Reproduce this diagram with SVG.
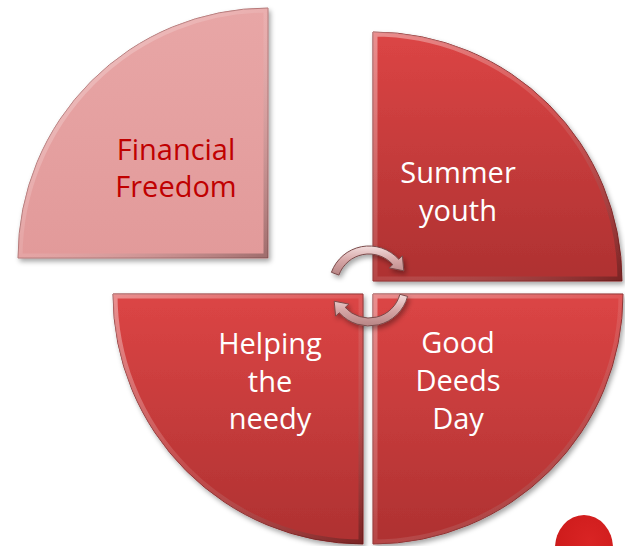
<svg xmlns="http://www.w3.org/2000/svg" width="625" height="546" viewBox="0 0 625 546">
  <defs>
    <linearGradient id="red" x1="0" y1="0" x2="0" y2="1">
      <stop offset="0" stop-color="#dc4545"/>
      <stop offset="1" stop-color="#ae3131"/>
    </linearGradient>
    <linearGradient id="pink" x1="0" y1="0" x2="0" y2="1">
      <stop offset="0" stop-color="#e8a6a6"/>
      <stop offset="1" stop-color="#e29a9a"/>
    </linearGradient>
    <linearGradient id="bevel" x1="0" y1="0" x2="1" y2="1">
      <stop offset="0" stop-color="#ffffff" stop-opacity="0.4"/>
      <stop offset="0.5" stop-color="#ffffff" stop-opacity="0.1"/>
      <stop offset="1" stop-color="#000000" stop-opacity="0.3"/>
    </linearGradient>
    <linearGradient id="arrowFill" x1="0" y1="0" x2="0" y2="1">
      <stop offset="0" stop-color="#f3dede"/>
      <stop offset="0.5" stop-color="#d6a6a6"/>
      <stop offset="1" stop-color="#b78484"/>
    </linearGradient>
    <radialGradient id="blob" cx="0.6" cy="0.4" r="0.7">
      <stop offset="0" stop-color="#d92424"/>
      <stop offset="0.8" stop-color="#cf1c1c"/>
      <stop offset="1" stop-color="#9e1212"/>
    </radialGradient>
    <filter id="shadow" x="-10%" y="-10%" width="125%" height="125%">
      <feDropShadow dx="2" dy="3" stdDeviation="2.5" flood-color="#000" flood-opacity="0.35"/>
    </filter>
    <path id="pFF" d="M268,8 L268,258 L18,258 A250,250 0 0 1 268,8 Z"/>
    <path id="pSY" d="M373,32 A249,249 0 0 1 622,281 L373,281 Z"/>
    <path id="pHN" d="M363,294 L363,544 A250,250 0 0 1 113,294 Z"/>
    <path id="pGD" d="M373,294 L623,294 A250,250 0 0 1 373,544 Z"/>
    <clipPath id="cFF"><use href="#pFF"/></clipPath>
    <clipPath id="cSY"><use href="#pSY"/></clipPath>
    <clipPath id="cHN"><use href="#pHN"/></clipPath>
    <clipPath id="cGD"><use href="#pGD"/></clipPath>
  </defs>
  <style>
    .lbl { font-family: "Open Sans", "Liberation Sans", sans-serif; font-size: 29px; text-anchor: middle; }
    .w { fill: #ffffff; }
    .dr { fill: #c00000; }
    .edge { stroke: #8a2626; stroke-width: 1; }
    .bev { fill: none; stroke: url(#bevel); stroke-width: 9; }
    .arr { fill: url(#arrowFill); stroke: #7a4a4a; stroke-width: 1; }
  </style>

  <g id="node-financial-freedom">
    <use href="#pFF" fill="url(#pink)" filter="url(#shadow)" stroke="#b07070" stroke-width="1"/>
    <use href="#pFF" class="bev" clip-path="url(#cFF)"/>
    <text class="lbl dr" x="176" y="160">Financial</text>
    <text class="lbl dr" x="176" y="197">Freedom</text>
  </g>

  <g id="node-summer-youth">
    <use href="#pSY" fill="url(#red)" filter="url(#shadow)" class="edge"/>
    <use href="#pSY" class="bev" clip-path="url(#cSY)"/>
    <text class="lbl w" x="458" y="183">Summer</text>
    <text class="lbl w" x="458" y="221">youth</text>
  </g>

  <g id="node-helping-the-needy">
    <use href="#pHN" fill="url(#red)" filter="url(#shadow)" class="edge"/>
    <use href="#pHN" class="bev" clip-path="url(#cHN)"/>
    <text class="lbl w" x="270" y="354">Helping</text>
    <text class="lbl w" x="270" y="392">the</text>
    <text class="lbl w" x="270" y="429">needy</text>
  </g>

  <g id="node-good-deeds-day">
    <use href="#pGD" fill="url(#red)" filter="url(#shadow)" class="edge"/>
    <use href="#pGD" class="bev" clip-path="url(#cGD)"/>
    <text class="lbl w" x="458" y="353">Good</text>
    <text class="lbl w" x="458" y="391">Deeds</text>
    <text class="lbl w" x="458" y="429">Day</text>
  </g>

  <g id="connectors" filter="url(#shadow)">
    <path class="arr" d="M331.4,272.3 A40,40 0 0 1 398.7,259.2 L402.4,255.9 L403.8,270.8 L389.1,267.9 L392.8,264.6 A32,32 0 0 0 338.9,275.1 Z"/>
    <path class="arr" d="M407.6,296.4 A40,40 0 0 1 339.3,312.8 L335.6,316.1 L334.2,301.2 L348.9,304.1 L345.2,307.4 A32,32 0 0 0 399.9,294.3 Z"/>
  </g>

  <ellipse cx="584" cy="548" rx="29" ry="33" fill="url(#blob)"/>
</svg>
